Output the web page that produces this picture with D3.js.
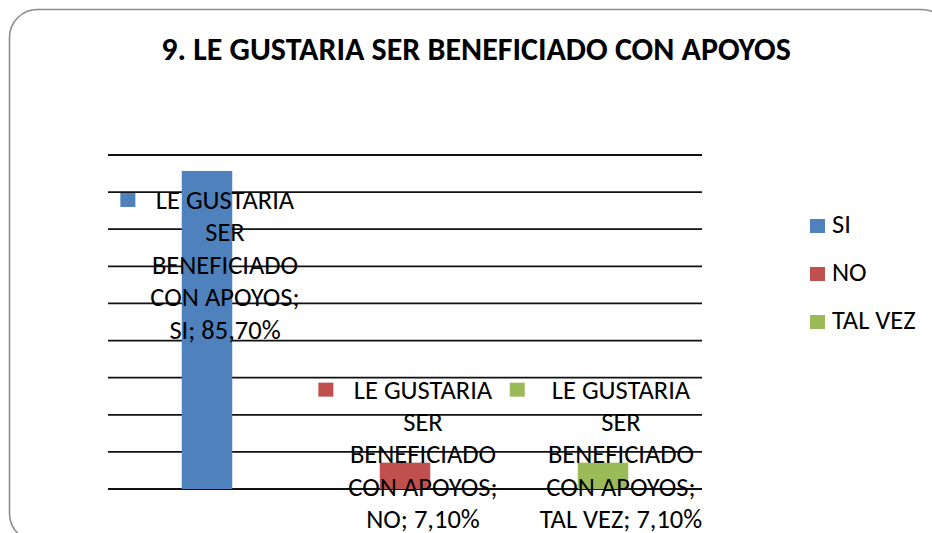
<!DOCTYPE html>
<html>
<head>
<meta charset="utf-8">
<script src="https://cdn.jsdelivr.net/npm/d3@7"></script>
<style>
    body { margin: 0; background: #fff; }
    svg text { font-family: Calibri, Carlito, Lato, "Liberation Sans", Arial, sans-serif; fill: #000; }
</style>
</head>
<body>
<svg id="chart" width="932" height="533"></svg>
<script>
// chart data
const title = "9. LE GUSTARIA SER BENEFICIADO CON APOYOS";
const categoryLines = ["LE GUSTARIA", "SER", "BENEFICIADO", "CON APOYOS;"];
const series = ["SI", "NO", "TAL VEZ"];
const values = [85.7, 7.1, 7.1];
const colors = ["#4F81BD", "#C0504D", "#9BBB59"];
const gridTicks = [0, 10, 20, 30, 40, 50, 60, 70, 80, 90];

const width = 932, height = 533;
const svg = d3.select("#chart");

// frame with rounded corners
svg.append("rect")
    .attr("x", 9.5).attr("y", 9.5)
    .attr("width", 940).attr("height", 532)
    .attr("rx", 28).attr("ry", 28)
    .attr("fill", "#fff")
    .attr("stroke", "#8c8c8c")
    .attr("stroke-width", 1.6);

svg.append("text")
    .attr("x", 476).attr("y", 60)
    .attr("text-anchor", "middle")
    .style("font-size", "32px")
    .style("font-weight", "bold")
    .text(title);

// scales
const plot = {left: 108, right: 702, top: 155, bottom: 489};
const x = d3.scaleBand()
    .domain(series)
    .range([plot.left, plot.right])
    .paddingInner(0.745)
    .paddingOuter(0.3725);
const y = d3.scaleLinear()
    .domain([0, 90])
    .range([plot.bottom, plot.top]);

// gridlines (behind the bars)
svg.append("g").selectAll("line")
    .data(gridTicks).join("line")
    .attr("x1", plot.left).attr("x2", plot.right)
    .attr("y1", d => y(d)).attr("y2", d => y(d))
    .attr("stroke", "#111")
    .attr("stroke-width", 1.8);

// bars
svg.append("g").selectAll("rect")
    .data(series).join("rect")
    .attr("x", d => x(d))
    .attr("width", x.bandwidth())
    .attr("y", (d, i) => y(values[i]))
    .attr("height", (d, i) => y(0) - y(values[i]))
    .attr("fill", (d, i) => colors[i]);

// data labels with legend key
const pct = d3.formatLocale({decimal: ",", thousands: ".", grouping: [3], currency: ["", ""]}).format(".2f");
const labelShift = [38, -64, -64];   // first baseline relative to bar top
const lineH = 32.4, keyW = 15, keyGap = 15;

series.forEach((s, i) => {
    const lines = categoryLines.concat([s + "; " + pct(values[i]) + "%"]);
    const g = svg.append("g");
    const t = g.append("text")
        .attr("text-anchor", "middle")
        .style("font-size", "26.5px");
    const spans = t.selectAll("tspan").data(lines).join("tspan").text(d => d);
    let blockW = 0;
    spans.each(function() { blockW = Math.max(blockW, this.getComputedTextLength()); });

    const cx = x(s) + x.bandwidth() / 2 + 3;
    const left = cx - (keyW + keyGap + blockW) / 2;
    const textX = left + keyW + keyGap + blockW / 2;
    const base = y(values[i]) + labelShift[i];

    spans.attr("x", textX).attr("y", (d, k) => base + k * lineH);
    g.insert("rect", "text")
        .attr("x", left).attr("y", base - 16)
        .attr("width", keyW).attr("height", 14)
        .attr("fill", colors[i]);
});

// legend
const legend = svg.append("g").attr("transform", "translate(810,219)");
const items = legend.selectAll("g").data(series).join("g")
    .attr("transform", (d, i) => `translate(0,${i * 48})`);
items.append("rect")
    .attr("width", 15).attr("height", 14)
    .attr("fill", (d, i) => colors[i]);
items.append("text")
    .attr("x", 22).attr("y", 14)
    .style("font-size", "26.5px")
    .text(d => d);
</script>
</body>
</html>
